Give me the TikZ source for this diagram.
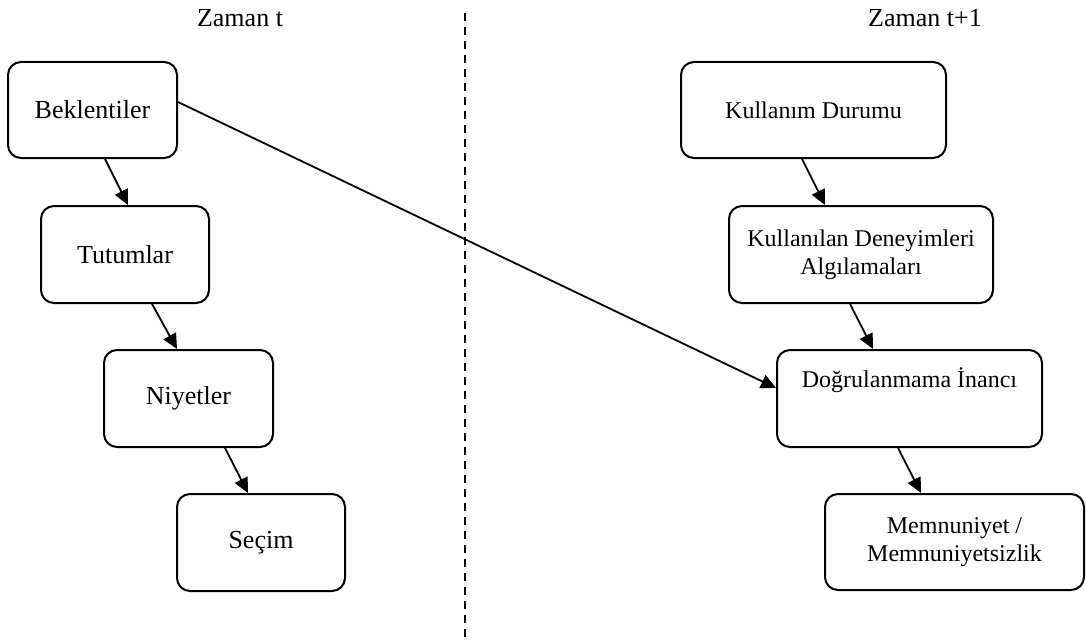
\documentclass[tikz,border=0pt]{standalone}
\usepackage{fontspec}
\setmainfont{Liberation Serif}
\usetikzlibrary{arrows.meta,calc}
\begin{document}
\begin{tikzpicture}[x=1pt,y=-1pt,
  box/.style={draw, line width=2pt, rounded corners=13pt, inner sep=0pt, align=center},
  lfont/.style={font=\fontsize{26}{30}\selectfont},
  rfont/.style={font=\fontsize{24}{28}\selectfont},
  lbox/.style={box, lfont, minimum width=168pt, minimum height=97pt},
  rbox/.style={box, rfont, minimum width=265pt, minimum height=97pt},
  conn/.style={line width=1.8pt, -{Triangle[length=15pt,width=14pt]}},
  divider/.style={line width=2pt, dash pattern=on 8pt off 6pt}]
\useasboundingbox (0,0) rectangle (1086,642);

% labels
\node[lfont, inner sep=0pt] (zt) at (240,18) {Zaman t};
\node[lfont, inner sep=0pt] (zt1) at (925,18) {Zaman t+1};

% divider
\coordinate (dtop) at (465,13);
\coordinate (dbot) at (465,638);
\draw[divider] (dtop) -- (dbot);

% left column
\node[lbox, minimum width=169pt, minimum height=96pt] (b) at (92.5,110) {Beklentiler};
\node[lbox] (tu) at (125,254.5) {Tutumlar};
\node[lbox, minimum width=169pt] (n) at (188.5,398.5) {Niyetler};
\node[lbox] (s) at (261,542.5) {Seçim};

% right column
\node[rbox, minimum height=96pt] (k) at (813.5,110) {Kullanım Durumu};
\node[rbox, minimum width=264pt] (ku) at (861,254.5) {Kullanılan Deneyimleri\\Algılamaları};
\node[rbox] (d) at (909.5,398.5) {};
\node[rfont, inner sep=0pt] (dt) at ($(d.north)+(0,31)$) {Doğrulanmama İnancı};
\node[rbox, minimum width=259pt, minimum height=96pt] (m) at (954.5,542) {Memnuniyet /\\Memnuniyetsizlik};

% connectors
\draw[conn] ($(b.south)+(12.5,0)$) -- ($(tu.north)+(3,0)$);
\draw[conn] ($(tu.south)+(27,0)$) -- ($(n.north)+(-11.5,0)$);
\draw[conn] ($(n.south)+(36.5,0)$) -- ($(s.north)+(-13,0)$);
\draw[conn] ($(k.south)+(-11.5,0)$) -- ($(ku.north)+(-36,0)$);
\draw[conn] ($(ku.south)+(-11,0)$) -- ($(d.north)+(-36.5,0)$);
\draw[conn] ($(d.south)+(-11.5,0)$) -- ($(m.north)+(-33.5,0)$);
\draw[conn] ($(b.east)+(0,-8)$) -- ($(d.west)+(0,-10.5)$);
\end{tikzpicture}
\end{document}
